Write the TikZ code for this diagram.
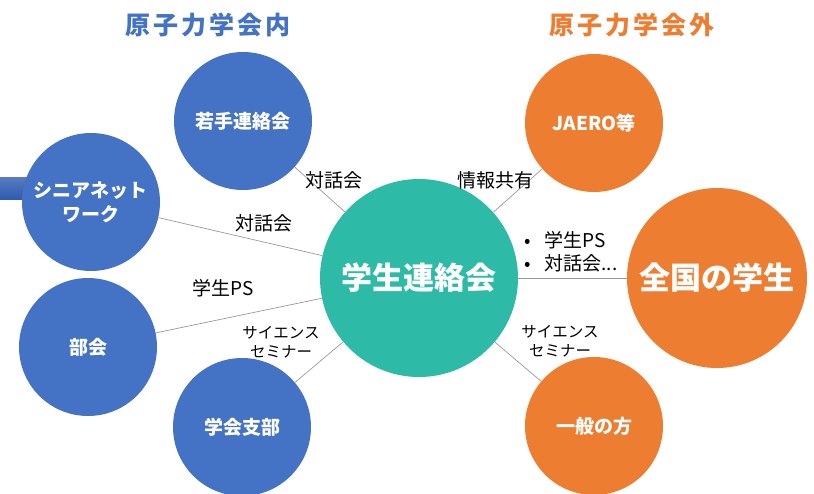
\documentclass[tikz,border=0pt]{standalone}
\usepackage{fontspec}
\setmainfont{Noto Sans CJK JP}
\usepackage{xcolor}
\definecolor{kaiblue}{HTML}{4472C4}
\definecolor{kaiorange}{HTML}{ED7D31}
\definecolor{kaiteal}{HTML}{2DBAA6}
\definecolor{kaibar}{HTML}{2F5BB0}

\begin{document}
\begin{tikzpicture}[x=1pt, y=-1pt,
    inner/.style={circle, fill=kaiblue, text=white, align=center, inner sep=0pt,
        minimum size=138pt, font=\bfseries\fontsize{19}{24}\selectfont},
    outer/.style={inner, fill=kaiorange},
    link/.style={draw=black!40, line width=0.7pt},
    tag/.style={align=center, inner sep=0pt, font=\fontsize{19}{23}\selectfont},
    seminar/.style={tag, font=\fontsize{15.5}{19}\selectfont},
    heading/.style={inner sep=0pt, font=\bfseries\fontsize{25}{30}\selectfont\addfontfeature{LetterSpace=12}}]
        \useasboundingbox (0,0) rectangle (814,493);
        \fill[top color=kaibar!80!white, bottom color=kaibar] (0,177) rectangle (40,199);

        \node[heading, text=kaiblue] at (208,25) (titlein) {原子力学会内};
        \node[heading, text=kaiorange] at (632,25) (titleout) {原子力学会外};

        \node[inner, fill=kaiteal, minimum size=198pt, font=\bfseries\fontsize{31}{36}\selectfont]
            at (419,278) (gakusei) {学生連絡会};

        \node[inner] at (243,121) (wakate) {若手連絡会};
        \node[inner] at (91,202) (senior) {シニアネット\\ワーク};
        \node[inner] at (88,347) (bukai) {部会};
        \node[inner] at (242,427) (shibu) {学会支部};

        \node[outer] at (594,123) (jaero) {JAERO等};
        \node[outer, minimum size=180pt, font=\bfseries\fontsize{31}{36}\selectfont]
            at (717,278) (zenkoku) {全国の学生};
        \node[outer] at (594,426) (ippan) {一般の方};

        \draw[link] (wakate) -- (gakusei);
        \draw[link] (senior) -- (gakusei);
        \draw[link] (bukai) -- (gakusei);
        \draw[link] (shibu) -- (gakusei);
        \draw[link] (jaero) -- (gakusei);
        \draw[link] (zenkoku) -- (gakusei);
        \draw[link] (ippan) -- (gakusei);

        \node[tag] at (334,180) (tagwakate) {対話会};
        \node[tag] at (264,223) (tagsenior) {対話会};
        \node[tag] at (223,288) (tagbukai) {学生PS};
        \node[seminar] at (281,342) (tagshibu) {サイエンス\\セミナー};
        \node[tag] at (495,180) (tagjaero) {情報共有};
        \node[tag, align=left, anchor=west] at (524,252) (tagzenkoku)
            {•\hspace{14pt}学生PS\\•\hspace{14pt}対話会...};
        \node[seminar] at (560,341) (tagippan) {サイエンス\\セミナー};
    \end{tikzpicture}
\end{document}
